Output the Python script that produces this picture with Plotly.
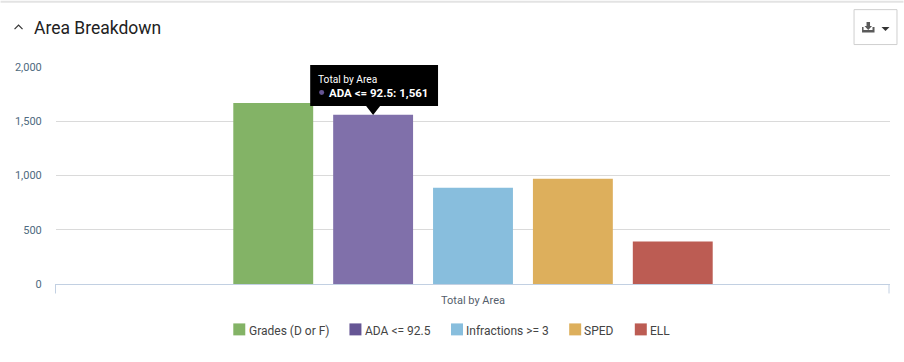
import plotly.graph_objects as go

categories = ["Total by Area"]
series_names = ["Grades (D or F)", "ADA <= 92.5", "Infractions >= 3", "SPED", "ELL"]
series_values = [1669, 1561, 887, 970, 391]
series_colors = ["#83b366", "#8070aa", "#88bedd", "#ddaf5c", "#bc5c53"]
legend_colors = ["#83b366", "#655594", "#88bedd", "#ddaf5c", "#bc5c53"]
y_ticks = [0, 500, 1000, 1500, 2000]
y_labels = ["0", "500", "1,000", "1,500", "2,000"]

W, H = 904, 362
L, R, T, B = 55.5, 890.5, 67, 284.5
FONT = "Roboto, sans-serif"
LEGEND_X = [233, 349.3, 451, 569.3, 635]
def X(x): return (x - L) / (R - L)
def Y(y): return (B - y) / (B - T)

fig = go.Figure()
for name, val, col in zip(series_names, series_values, series_colors):
    fig.add_trace(go.Bar(name=name, x=categories, y=[val], marker=dict(color=col, line=dict(width=0))))

shapes = []
def line(x0, y0, x1, y1, color, width=1):
    shapes.append(dict(type="line", xref="paper", yref="paper", x0=X(x0), y0=Y(y0), x1=X(x1), y1=Y(y1),
                       line=dict(color=color, width=width)))
def path(points, fill=None, color=None, width=1):
    d = "M" + "L".join(f"{X(a):.5f},{Y(b):.5f}" for a, b in points)
    if fill:
        d += "Z"
    shapes.append(dict(type="path", xref="paper", yref="paper", path=d, fillcolor=fill,
                       line=dict(color=color or fill, width=width if color else 0)))

line(0, 1.5, W, 1.5, "#e3e3e3", 2)
line(55, 284.5, 55, 294, "#c2d0e2")
line(889.5, 284.5, 889.5, 294, "#c2d0e2")
path([(14, 29), (18, 25), (22, 29)], color="#333333", width=1.2)
# export button
shapes.append(dict(type="rect", xref="paper", yref="paper", x0=X(854.5), x1=X(897.5), y0=Y(9.5), y1=Y(44.5),
                   line=dict(color="#cfcfcf", width=1), fillcolor="#ffffff"))
path([(862.5, 27), (864, 27), (864, 30), (873, 30), (873, 27), (875, 27), (875, 32.5), (862.5, 32.5)], fill="#5a5a5a")
path([(867, 22), (870.5, 22), (870.5, 26), (872.5, 26), (868.7, 30), (865, 26), (867, 26)], fill="#5a5a5a")
path([(882, 27), (890, 27), (886, 31)], fill="#333333")
# tooltip
path([(310, 65), (438, 65), (438, 106), (380, 106), (373, 115), (366, 106), (310, 106)], fill="#000000")
shapes.append(dict(type="circle", xref="paper", yref="paper", x0=X(319), x1=X(324), y0=Y(95), y1=Y(90),
                   fillcolor=legend_colors[1], line=dict(width=0)))

anns = [
    dict(x=X(33), y=Y(27.5), text="Area Breakdown", font=dict(size=17.5, color="#222222", family=FONT)),
    dict(x=X(318), y=Y(79.5), text="Total by Area", font=dict(size=10.2, color="#ffffff", family=FONT)),
    dict(x=X(329), y=Y(93), text=f"<b>{series_names[1]}: {series_values[1]:,}</b>",
         font=dict(size=11.5, color="#ffffff", family=FONT)),
]
# legend built from the series lists
for name, col, lx in zip(series_names, legend_colors, LEGEND_X):
    shapes.append(dict(type="rect", xref="paper", yref="paper", x0=X(lx), x1=X(lx + 12), y0=Y(336), y1=Y(324),
                       fillcolor=col, line=dict(width=0)))
    anns.append(dict(x=X(lx + 15.3), y=Y(331.5), text=name, font=dict(size=12, color="#444444", family=FONT)))
for a in anns:
    a.update(xref="paper", yref="paper", xanchor="left", yanchor="middle", showarrow=False,
             borderpad=0, borderwidth=0)

fig.update_layout(
    width=W, height=H, autosize=False,
    margin=dict(l=L, r=W - R, t=T, b=H - B, pad=0),
    paper_bgcolor="#ffffff", plot_bgcolor="#ffffff",
    font=dict(family=FONT),
    barmode="group", bargap=1 - 500 / (R - L), bargroupgap=0.2,
    showlegend=False,
    shapes=shapes, annotations=anns,
    hovermode=False,
)
fig.update_xaxes(type="category", automargin=False, showgrid=False, showline=True, linecolor="#c2d0e2", linewidth=1,
                 ticks="outside", ticklen=6, tickcolor="rgba(0,0,0,0)",
                 tickfont=dict(size=11, color="#555e6b", family=FONT))
fig.update_yaxes(range=[0, 2000], automargin=False, tickvals=y_ticks, ticktext=y_labels, showgrid=True,
                 gridcolor="#dadada", gridwidth=1,
                 zeroline=False, showline=False, ticks="outside", ticklen=11, tickcolor="rgba(0,0,0,0)",
                 tickfont=dict(size=11, color="#4f6a80", family=FONT))

fig.write_html("out.html", config={"displayModeBar": False},
               post_script="document.body.style.margin='0';")
